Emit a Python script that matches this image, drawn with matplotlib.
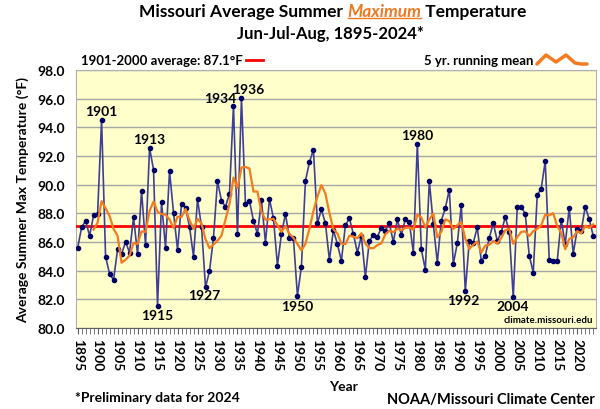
"""Missouri average summer maximum temperature, 1895-2024."""
import matplotlib
matplotlib.use("Agg")
import matplotlib.pyplot as plt
import numpy as np
import pandas as pd

plt.rcParams["font.family"] = ["Lato", "DejaVu Sans"]

years = np.arange(1895, 2025)
temps = [
    85.56, 87.02, 87.48, 86.44, 87.85, 87.95, 94.53, 84.98, 83.78, 83.36,  # 1895-1904
    85.49, 85.17, 86.00, 85.26, 87.74, 85.14, 89.57, 85.79, 92.56, 91.05,  # 1905-1914
    81.55, 88.78, 85.58, 90.96, 88.04, 85.47, 88.66, 88.39, 87.07, 84.98,  # 1915-1924
    88.99, 87.07, 82.85, 83.96, 86.30, 90.26, 88.87, 88.46, 89.38, 95.52,  # 1925-1934
    86.56, 96.05, 88.64, 88.87, 87.48, 86.56, 88.92, 85.95, 88.99, 87.67,  # 1935-1944
    84.36, 86.56, 87.95, 86.30, 86.26, 82.25, 84.29, 90.26, 91.56, 92.44,  # 1945-1954
    87.30, 88.27, 87.30, 84.75, 86.83, 85.86, 84.68, 87.16, 87.65, 86.56,  # 1955-1964
    85.26, 86.42, 83.55, 86.09, 86.49, 86.37, 87.00, 86.79, 87.30, 85.98,  # 1965-1974
    87.58, 86.49, 87.60, 87.37, 85.26, 92.86, 85.49, 84.06, 90.26, 87.23,  # 1975-1984
    84.56, 87.48, 88.36, 89.66, 84.47, 85.91, 88.57, 82.55, 86.09, 85.95,  # 1985-1994
    87.02, 84.68, 85.05, 86.30, 87.30, 86.09, 86.67, 87.76, 86.72, 82.13,  # 1995-2004
    88.46, 88.46, 87.95, 85.05, 83.87, 89.27, 89.73, 91.65, 84.75, 84.68,  # 2005-2014
    84.68, 87.53, 85.84, 88.39, 85.17, 86.88, 86.77, 88.46, 87.60, 86.44,  # 2015-2024
]
century_avg = 87.1

# labelled extremes: year -> (dx, dy) label offset in pixels
labelled = {
    1901: (0, 9), 1913: (0, 9), 1915: (0, -9), 1927: (-1, -8), 1934: (-13, 8),
    1936: (7, 9), 1950: (0, -10), 1980: (0, 9), 1992: (-2, -9), 2004: (-1, -9),
}

series = pd.Series(temps, index=years)
running = series.rolling(5).mean()

fig = plt.figure(figsize=(6, 4.1), dpi=100)
ax = fig.add_axes([76 / 600, 81 / 410, 520 / 600, 258 / 410])
ax.set_facecolor("#FFFFCC")

ax.set_xlim(1894.6, 2024.7)
ax.set_ylim(80, 98)
ax.set_yticks(np.arange(80, 98.1, 2))
ax.set_yticklabels([f"{v:.1f}" for v in np.arange(80, 98.1, 2)],
                   fontsize=10, fontweight="bold")
ax.grid(axis="y", color="#A6A6A6", lw=1)
ax.set_axisbelow(True)

ax.set_xticks(np.arange(1895, 2021, 5))
ax.set_xticklabels([str(y) for y in range(1895, 2021, 5)],
                   rotation=270, fontsize=10, fontweight="bold")
ax.set_xticks(years, minor=True)
ax.tick_params(axis="x", which="both", direction="out", length=4, color="#606060")
ax.tick_params(axis="y", length=0, pad=8)
for side in ["left", "top", "right"]:
    ax.spines[side].set_color("#B0B0B0")
ax.spines["bottom"].set_color("#606060")

ax.axhline(century_avg, color="#FF0000", lw=2, zorder=3)
ax.plot(years, temps, color="#3F3F9A", lw=1.2, marker="o", ms=3,
        mfc="#000066", mec="#000066", zorder=4)
ax.plot(running.index, running.values, color="#F47B20", lw=1.6, zorder=5)

for yr, (dx, dy) in labelled.items():
    ax.annotate(str(yr), (yr, series[yr]), xytext=(dx, dy),
                textcoords="offset pixels", ha="center", va="center",
                fontsize=10, fontweight="bold", zorder=6)

ax.text(0.995, 0.015, "climate.missouri.edu", transform=ax.transAxes,
        ha="right", va="bottom", fontsize=7, fontweight="bold")

ax.set_ylabel("Average Summer Max Temperature (°F)", fontsize=10,
              fontweight="bold", labelpad=6)
fig.text(343 / 600, 1 - 387 / 410, "Year", ha="center", va="center",
         fontsize=10, fontweight="bold")
fig.text(75 / 600, 1 - 398 / 410, "*Preliminary data for 2024", ha="left",
         va="center", fontsize=10, fontweight="bold")
fig.text(595 / 600, 1 - 400 / 410, "NOAA/Missouri Climate Center", ha="right",
         va="center", fontsize=10.5, fontweight="bold")

# title: first line has an orange, italic, underlined word
fig.canvas.draw()
renderer = fig.canvas.get_renderer()
parts = [("Missouri Average Summer ", "black", "normal"),
         ("Maximum", "#F07820", "italic"),
         (" Temperature", "black", "normal")]
title_y = 1 - 12 / 410
texts = []
for s, c, st in parts:
    t = fig.text(0, title_y, s, color=c, style=st, fontsize=12.5,
                 fontweight="bold", va="center", ha="left")
    texts.append(t)
widths = [t.get_window_extent(renderer).width for t in texts]
x0 = 333 - sum(widths) / 2
for t, w in zip(texts, widths):
    t.set_x(x0 / 600)
    if t.get_text() == "Maximum":
        bb = t.get_window_extent(renderer)
        fig.add_artist(plt.Line2D([x0 / 600, (x0 + w) / 600],
                                  [(bb.y0 + 1) / 410] * 2,
                                  color="#F07820", lw=1))
    x0 += w
fig.text(330 / 600, 1 - 34 / 410, "Jun-Jul-Aug, 1895-2024*", ha="center",
         va="center", fontsize=12, fontweight="bold")

# legend-like notes above the plot
fig.text(81 / 600, 1 - 61 / 410, "1901-2000 average: 87.1°F", ha="left",
         va="center", fontsize=9.5, fontweight="bold")
fig.add_artist(plt.Line2D([246 / 600, 263 / 600], [1 - 61 / 410] * 2,
                          color="#FF0000", lw=2))
fig.text(533 / 600, 1 - 61 / 410, "5 yr. running mean", ha="right",
         va="center", fontsize=9.5, fontweight="bold")
sq_x = np.array([537, 546, 556, 566, 575, 581, 587])
sq_y = np.array([65, 56, 63, 56, 64, 65, 65])
fig.add_artist(plt.Line2D(sq_x / 600, 1 - sq_y / 410, color="#F47B20", lw=2.5,
                          solid_joinstyle="round", solid_capstyle="round"))

fig.savefig("out.png", dpi=100)
